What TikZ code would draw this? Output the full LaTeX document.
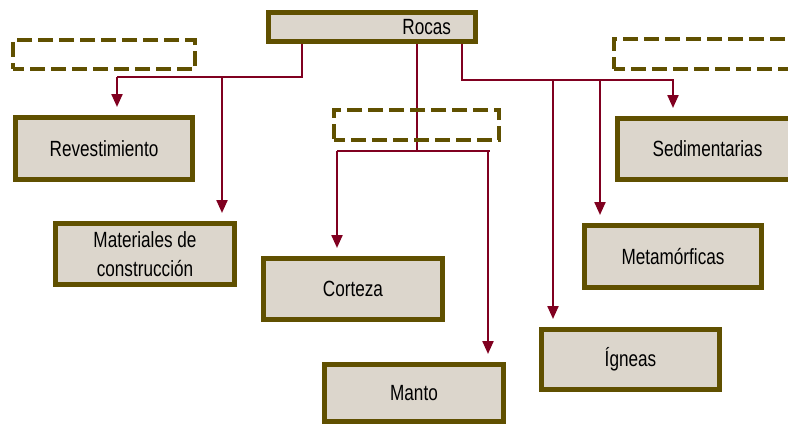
\documentclass[tikz,border=0pt]{standalone}
\usepackage{tikz}
\usetikzlibrary{arrows.meta,backgrounds}
\usepackage{fontspec}
\setmainfont{Liberation Sans}[FakeStretch=0.78]
\usepackage{xcolor}
\definecolor{oliva}{RGB}{96,80,0}
\definecolor{arena}{RGB}{220,214,204}
\definecolor{granate}{RGB}{128,0,32}
\tikzset{
  caja/.style={draw=oliva,fill=arena,line width=5pt,inner sep=0pt,align=center,
    font=\fontsize{22}{29}\selectfont},
  vacio/.style={draw=oliva,line width=4pt,dash pattern=on 15pt off 6pt,dash phase=4pt},
  linea/.style={draw=granate,line width=2.2pt},
  flecha/.style={linea,-{Triangle[length=13pt,width=11pt]},shorten >=8pt}
}

\begin{document}
\begin{tikzpicture}[x=1pt,y=-1pt]
\useasboundingbox (0,0) rectangle (788,426);
\node[caja,minimum width=207pt,minimum height=29pt,text width=158pt,align=right] (rocas) at (372,27) {Rocas};
\node[vacio,minimum width=182pt,minimum height=29pt] (vacio1) at (104,54.5) {};
\node[vacio,minimum width=165pt,minimum height=30pt] (vacio2) at (416.5,125) {};
\node[vacio,minimum width=184pt,minimum height=30pt] (vacio3) at (706,54) {};
\node[caja,minimum width=177pt,minimum height=62pt] (rev) at (104,148.5) {Revestimiento};
\node[caja,minimum width=179pt,minimum height=61pt] (mat) at (145,254) {Materiales de\\construcción};
\node[caja,minimum width=179pt,minimum height=61pt] (cor) at (353,289) {Corteza};
\node[caja,minimum width=179pt,minimum height=57pt] (man) at (414,393) {Manto};
\node[caja,minimum width=180pt,minimum height=61pt] (sed) at (707.5,149) {Sedimentarias};
\node[caja,minimum width=177pt,minimum height=62pt] (met) at (673,256.5) {Metamórficas};
\node[caja,minimum width=178pt,minimum height=60pt] (ign) at (630.5,359.5) {Ígneas};
\coordinate (t1) at (302,77);
\coordinate (b1) at (117,77);
\coordinate (b2) at (222,77);
\coordinate (t2) at (417,151);
\coordinate (m1) at (337,151);
\coordinate (m2) at (488,151);
\coordinate (t3) at (462,80);
\coordinate (d1) at (553,80);
\coordinate (d2) at (600,80);
\coordinate (d3) at (673,80);
\begin{scope}[on background layer]
\draw[linea] (rocas.south -| t1) -- (t1) -- (b1);
\draw[flecha] (b1) -- (b1 |- rev.north);
\draw[flecha] (b2) -- (b2 |- mat.north);
\draw[linea] (rocas.south -| t2) -- (t2);
\draw[linea] (m1) -- ([xshift=2pt]m2);
\draw[flecha] (m1) -- (m1 |- cor.north);
\draw[flecha] (m2) -- (m2 |- man.north);
\draw[linea] (rocas.south -| t3) -- (t3) -- ([xshift=1pt]d3);
\draw[flecha] (d1) -- (d1 |- ign.north);
\draw[flecha] (d2) -- (d2 |- met.north);
\draw[flecha] (d3) -- (d3 |- sed.north);
\end{scope}
\end{tikzpicture}
\end{document}
